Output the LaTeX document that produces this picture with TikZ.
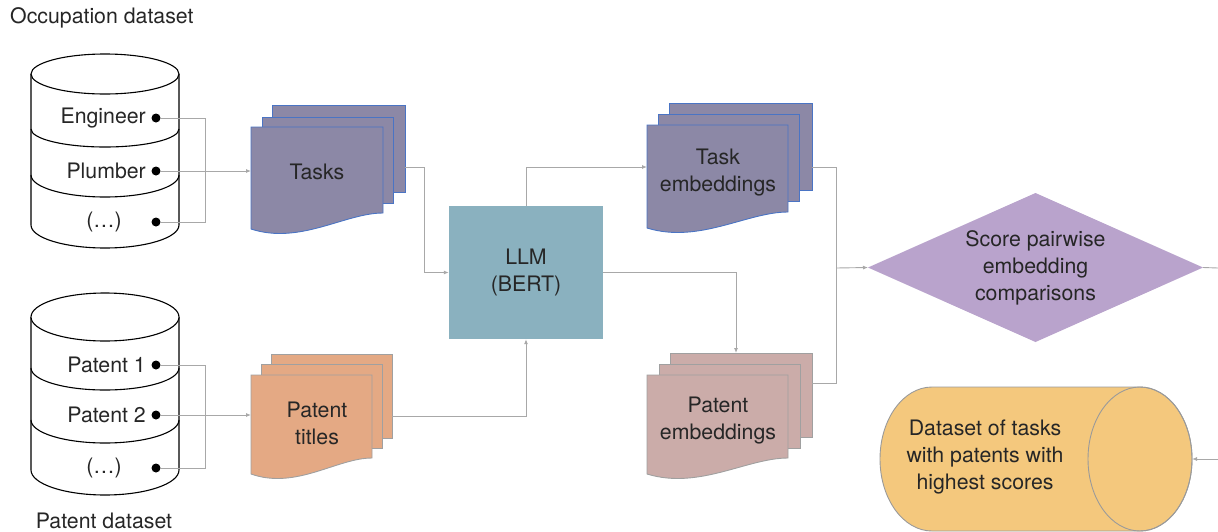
\documentclass[tikz,border=0pt]{standalone}
\usepackage{fontspec}
\setmainfont{TeX Gyre Heros}
\usetikzlibrary{arrows.meta,fit,shapes.geometric}
\definecolor{txt}{HTML}{262626}
\definecolor{taskfill}{HTML}{8C88A6}
\definecolor{taskline}{HTML}{4A74C4}
\definecolor{ptitfill}{HTML}{E4A984}
\definecolor{grayline}{HTML}{A0A0A0}
\definecolor{pembfill}{HTML}{CBACA9}
\definecolor{llmfill}{HTML}{8AB1BF}
\definecolor{scorefill}{HTML}{B9A3CC}
\definecolor{cylfill}{HTML}{F4C87D}
\definecolor{cylline}{HTML}{9A9A9A}
\definecolor{connc}{HTML}{A8A8A8}
\tikzset{
  lbl/.style={text=txt, font=\fontsize{21.3}{27}\selectfont, align=center, inner sep=0pt},
  conn/.style={draw=connc, line width=0.9pt},
  arr/.style={conn, -{Latex[length=5pt,width=4pt]}},
  dbdot/.style={circle, fill=black, inner sep=0pt, minimum size=9pt},
  dbline/.style={draw=black, line width=1.1pt, fill=white},
  anchorbox/.style={inner sep=0pt, outer sep=0pt},
  taskdoc/.style={fill=taskfill, draw=taskline, line width=0.9pt},
  ptitdoc/.style={fill=ptitfill, draw=grayline, line width=0.9pt},
  pembdoc/.style={fill=pembfill, draw=grayline, line width=0.9pt},
}
\begin{document}
\begin{tikzpicture}[x=1pt,y=1pt]
\useasboundingbox (0,0) rectangle (1218,-531);

% ---------- Occupation dataset cylinder ----------
\node[lbl, anchor=west] (occlbl) at (10,-18) {Occupation dataset};
\path[dbline] (31,-74) -- (31,-225) arc[start angle=180, end angle=360, x radius=74pt, y radius=23pt] -- (179,-74);
\draw[dbline] (105,-74) ellipse[x radius=74pt, y radius=20pt];
\draw[line width=1.1pt] (179,-129) arc[start angle=0, end angle=-180, x radius=74pt, y radius=18pt];
\draw[line width=1.1pt] (179,-175) arc[start angle=0, end angle=-180, x radius=74pt, y radius=22pt];
\node[lbl, anchor=east] (eng) at (146,-118) {Engineer};
\node[lbl, anchor=east] (plu) at (146,-171) {Plumber};
\node[lbl] (oetc) at (104,-222) {(…)};
\node[dbdot] (engd) at (156,-118) {};
\node[dbdot] (plud) at (156,-171) {};
\node[dbdot] (oetcd) at (156,-222) {};

% ---------- Patent dataset cylinder ----------
\node[lbl] (patlbl) at (104,-521) {Patent dataset};
\path[dbline] (31,-317) -- (31,-470) arc[start angle=180, end angle=360, x radius=74pt, y radius=25pt] -- (179,-317);
\draw[dbline] (105,-317) ellipse[x radius=74pt, y radius=24pt];
\draw[line width=1.1pt] (179,-368) arc[start angle=0, end angle=-180, x radius=74pt, y radius=22pt];
\draw[line width=1.1pt] (179,-420) arc[start angle=0, end angle=-180, x radius=74pt, y radius=23pt];
\node[lbl, anchor=east] (p1) at (146,-365) {Patent 1};
\node[lbl, anchor=east] (p2) at (146,-415) {Patent 2};
\node[lbl] (petc) at (104,-468) {(…)};
\node[dbdot] (p1d) at (156,-365) {};
\node[dbdot] (p2d) at (156,-415) {};
\node[dbdot] (petcd) at (156,-468) {};

% ---------- Tasks stack ----------
\node[taskdoc, anchorbox, fit={(272,-105) (405,-192)}] (tasksC) {};
\node[taskdoc, anchorbox, fit={(262,-117) (393,-203)}] (tasksB) {};
\path[taskdoc] (251,-127) -- (383,-127) -- (383,-213) .. controls (345,-213) and (300,-245) .. (251,-229) -- cycle;
\node[anchorbox, fit={(251,-127) (383,-215)}] (tasksA) {};
\node[lbl] (taskst) at (317,-172) {Tasks};

% ---------- Patent titles stack ----------
\node[ptitdoc, anchorbox, fit={(271,-354) (392,-438)}] (ptitC) {};
\node[ptitdoc, anchorbox, fit={(261,-364) (382,-448)}] (ptitB) {};
\path[ptitdoc] (251,-375) -- (372,-375) -- (372,-458) .. controls (337,-458) and (296,-490) .. (251,-474) -- cycle;
\node[anchorbox, fit={(251,-375) (372,-455)}] (ptitA) {};
\node[lbl] (ptitt) at (317,-423.5) {Patent\\titles};

% ---------- LLM ----------
\node[lbl, fill=llmfill, minimum width=154pt, minimum height=133pt] (llm) at (526,-272.5) {LLM\\(BERT)};

% ---------- Task embeddings stack ----------
\node[taskdoc, anchorbox, fit={(669,-103) (812,-190)}] (tembC) {};
\node[taskdoc, anchorbox, fit={(658,-114) (799,-201)}] (tembB) {};
\path[taskdoc] (647,-125) -- (788,-125) -- (788,-212) .. controls (747,-212) and (699,-244) .. (647,-228) -- cycle;
\node[anchorbox, fit={(647,-125) (788,-209)}] (tembA) {};
\node[lbl] (tembt) at (718,-172.5) {Task\\embeddings};

% ---------- Patent embeddings stack ----------
\node[pembdoc, anchorbox, fit={(670,-353) (812,-437)}] (pembC) {};
\node[pembdoc, anchorbox, fit={(659,-364) (800,-448)}] (pembB) {};
\path[pembdoc] (647,-375) -- (788,-375) -- (788,-458) .. controls (747,-458) and (699,-490) .. (647,-474) -- cycle;
\node[anchorbox, fit={(647,-375) (788,-458)}] (pembA) {};
\node[lbl] (pembt) at (718,-420.5) {Patent\\embeddings};

% ---------- Score diamond ----------
\path[fill=scorefill] (868,-267.5) -- (1035.5,-193) -- (1203,-267.5) -- (1035.5,-342) -- cycle;
\node[anchorbox, fit={(868,-193) (1203,-342)}] (score) {};
\node[lbl] (scoret) at (1035.5,-268) {Score pairwise\\embedding\\comparisons};

% ---------- Result cylinder ----------
\path[fill=cylfill, draw=cylline, line width=0.9pt] (1140,-387) -- (932,-387) arc[start angle=90, end angle=270, x radius=52pt, y radius=72pt] -- (1140,-531) arc[start angle=-90, end angle=90, x radius=52pt, y radius=72pt] -- cycle;
\draw[draw=cylline, line width=0.9pt] (1140,-459) ellipse[x radius=52pt, y radius=72pt];
\node[anchorbox, fit={(880,-387) (1192,-531)}] (dataset) {};
\node[lbl] (datasett) at (985,-457) {Dataset of tasks\\with patents with\\highest scores};

% ---------- Connectors ----------
\draw[conn] (engd) -- ++(49,0) |- (oetcd);
\draw[arr] (plud) -- (tasksA.west |- plud);
\draw[conn] (p1d) -- ++(49,0) |- (petcd);
\draw[arr] (p2d) -- (ptitA.west |- p2d);

\draw[arr] ([yshift=-18.5pt]tasksC.east) -- ++(19,0) |- (llm.west);
\draw[arr] ([yshift=-20pt]ptitC.east) -| (llm.south);
\draw[arr] (llm.north) |- (tembA.west);
\draw[arr] (llm.east) -| ([xshift=-5pt]pembC.north);

\coordinate (rbus) at (836,-268);
\draw[conn] ([yshift=-20.5pt]tembC.east) -| (rbus) |- ([yshift=12pt]pembC.east);
\draw[arr] (rbus) -- (score.west);

\coordinate (outR) at (1218,-268);
\draw[conn] (score.east) -- (outR);
\coordinate (inR) at (1218,-459);
\draw[arr] (inR) -- (dataset.east);
\end{tikzpicture}
\end{document}
